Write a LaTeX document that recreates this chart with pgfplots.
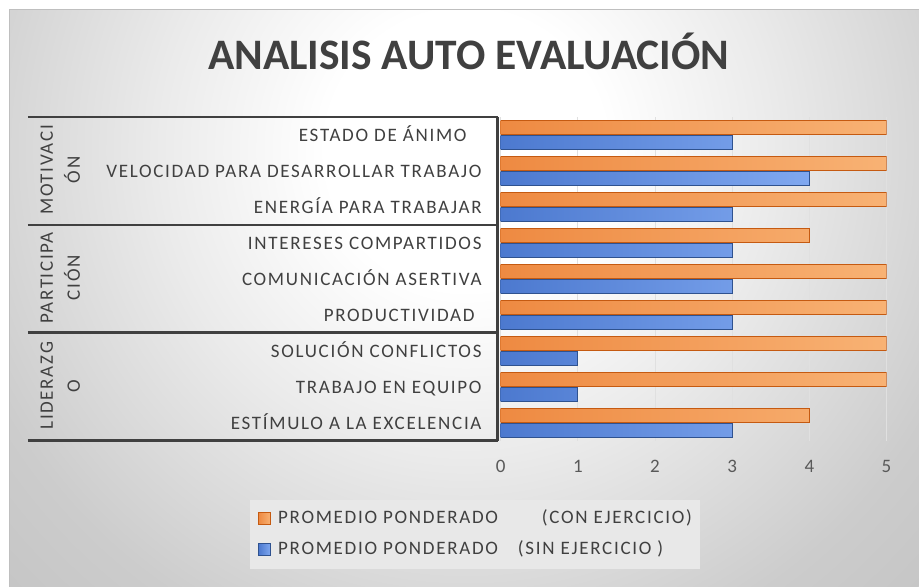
\documentclass[border=0pt]{standalone}
\usepackage{fontspec}
\setmainfont{Carlito}
\newfontfamily\lblfont[LetterSpace=9]{Carlito}
\usepackage{pgfplots}
\pgfplotsset{compat=1.18}
\definecolor{txt}{HTML}{404040}
\definecolor{tickc}{HTML}{595959}
\definecolor{orD}{HTML}{C55A11}
\definecolor{orL}{HTML}{EE8A42}
\definecolor{orR}{HTML}{F8B274}
\definecolor{blD}{HTML}{2F528F}
\definecolor{blL}{HTML}{4C79CF}
\definecolor{blR}{HTML}{80A8F0}
% path bbox maps to the central 50bp: radius 25bp <-> 700pt
\pgfdeclareradialshading{bgshade}{\pgfpoint{0bp}{0bp}}{color(0bp)=(white); color(5bp)=(white); color(11bp)=(black!8); color(19bp)=(black!20); color(25bp)=(black!24); color(50bp)=(black!24)}
\newcommand{\lf}{\lblfont\fontsize{19}{23}\selectfont}
\pgfplotsset{sqlegend/.style={legend image code/.code={\draw[##1, line width=1pt] (0pt,-6pt) rectangle (12pt,6pt);}}}

\pgfplotstableread{
y con sin
0 4 3
1 5 1
2 5 1
3 5 3
4 5 3
5 4 3
6 5 3
7 5 4
8 5 3
}\datatable

\begin{document}
\begin{tikzpicture}
\fill[white] (0pt,0pt) rectangle (919pt,587pt);
\begin{scope}
\clip (10pt,0pt) rectangle (919pt,577pt);
\fill[black!24] (10pt,0pt) rectangle (919pt,577pt);
\shade[shading=bgshade] (466pt,437pt) circle (700pt);
\end{scope}
\draw[black!25, line width=1pt] (10pt,0pt) -- (10pt,577pt) -- (919pt,577pt);

\node[anchor=base, font=\bfseries\fontsize{43.5}{50}\selectfont, text=txt, inner sep=0pt] at (469pt,517pt) {ANALISIS AUTO EVALUACIÓN};

% table lines
\begin{scope}[draw=txt, line width=2.7pt]
\draw (28pt,470pt) -- (498pt,470pt);
\draw (28pt,362pt) -- (498pt,362pt);
\draw (28pt,254pt) -- (498pt,254pt);
\draw (28pt,146pt) -- (498pt,146pt);
\draw (498pt,470pt) -- (498pt,146pt);
\end{scope}

% group labels
\begin{scope}[font=\lf, text=txt, inner sep=0pt]
\node[rotate=90, anchor=base] at (53pt,417pt) {MOTIVACI};
\node[rotate=90, anchor=base] at (80pt,417pt) {ÓN};
\node[rotate=90, anchor=base] at (53pt,309pt) {PARTICIPA};
\node[rotate=90, anchor=base] at (80pt,309pt) {CIÓN};
\node[rotate=90, anchor=base] at (53pt,201pt) {LIDERAZG};
\node[rotate=90, anchor=base] at (80pt,201pt) {O};
\end{scope}

\begin{axis}[
  at={(501pt,146pt)}, anchor=south west, scale only axis,
  width=386pt, height=324pt,
  xmin=0, xmax=5, ymin=-0.5, ymax=8.5,
  axis line style={draw=none}, tick style={draw=none},
  xtick={0,1,2,3,4,5}, ytick={0,1,2,3,4,5,6,7,8},
  yticklabels={ESTÍMULO A LA EXCELENCIA, TRABAJO EN EQUIPO, SOLUCIÓN CONFLICTOS, PRODUCTIVIDAD\hspace*{7pt}, COMUNICACIÓN ASERTIVA, INTERESES COMPARTIDOS, ENERGÍA PARA TRABAJAR, VELOCIDAD PARA DESARROLLAR TRABAJO, ESTADO DE ÁNIMO\hspace*{15pt}},
  yticklabel style={font=\lf, text=txt, anchor=base east, inner sep=0pt, xshift=-19pt, yshift=-6.5pt},
  xticklabel style={font=\fontsize{19}{23}\selectfont, text=tickc, anchor=base, inner sep=0pt, yshift=-32pt},
  /pgf/number format/assume math mode=true,
  xmajorgrids, grid style={black!12, line width=0.8pt},
  legend style={at={(axis description cs:-0.650,-0.182)}, anchor=north west, draw=none, fill=black!9,
    inner xsep=8pt, inner ysep=10pt, row sep=13pt, font=\lf, text=txt,
    nodes={inner sep=0pt, text height=14pt, text depth=4pt},
    /tikz/every odd column/.append style={column sep=7pt}},
  legend cell align=left,
]
\addplot[xbar, bar width=14pt, bar shift=7.5pt, draw=orD, line width=1pt, left color=orL, right color=orR, sqlegend] table[x=con, y=y] {\datatable};
\addlegendentry{PROMEDIO PONDERADO\hspace{44pt}(CON EJERCICIO)}
\addplot[xbar, bar width=14pt, bar shift=-7.5pt, draw=blD, line width=1pt, left color=blL, right color=blR, sqlegend] table[x=sin, y=y] {\datatable};
\addlegendentry{PROMEDIO PONDERADO\hspace{20pt}(SIN EJERCICIO )}
\end{axis}
\end{tikzpicture}
\end{document}
